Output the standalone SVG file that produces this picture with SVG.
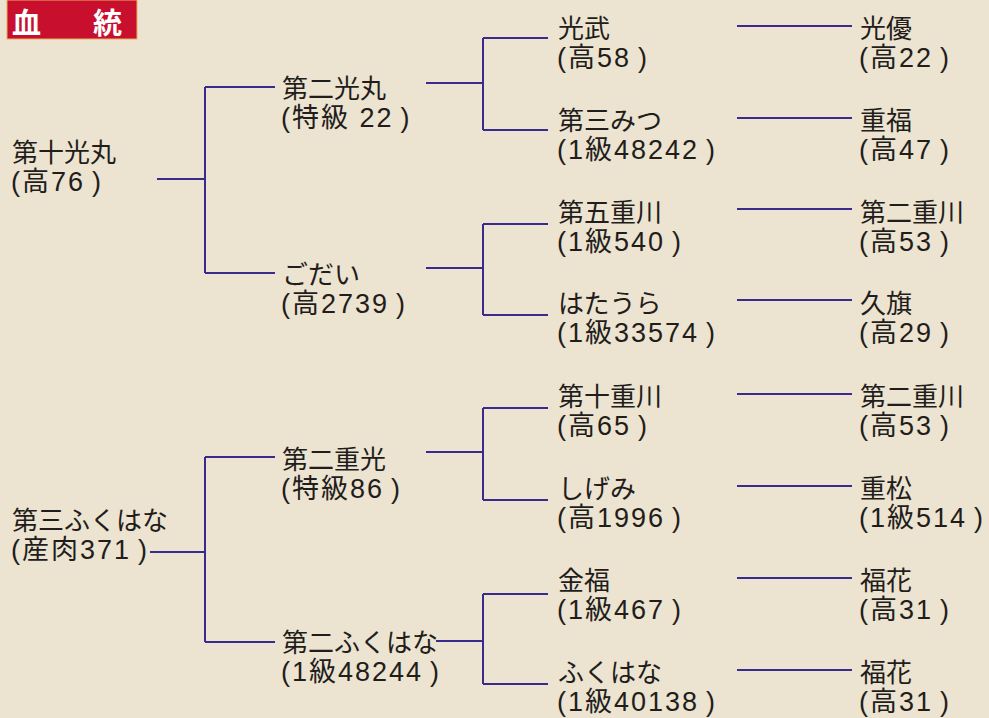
<svg xmlns="http://www.w3.org/2000/svg" width="989" height="718" viewBox="0 0 989 718">
<style>
.t{font-family:"Liberation Sans","Noto Sans CJK JP",sans-serif;font-size:26px;fill:#221d1a}
.s{font-size:27px;letter-spacing:2px}
.c{stroke:#3a2a8e;stroke-width:2;fill:none}
.ttl{font-family:"Noto Sans CJK JP",serif;font-size:29px;font-weight:bold;fill:#fff}
</style>
<rect width="989" height="718" fill="#ece3d1"/>
<g id="title">
<rect x="7" y="0" width="130" height="39" fill="#c8102e" stroke="#e8b060" stroke-width="1"/>
<text class="ttl" x="12" y="34">血　<tspan dx="23">統</tspan></text>
</g>
<g id="connectors" class="c">
<path d="M157 179H205M205 87V273M205 87H275M205 273H275"/>
<path d="M426 83H483M483 38V130M483 38H548M483 130H548"/>
<path d="M426 268H483M483 224V315M483 224H548M483 315H548"/>
<path d="M150 552H205M205 457V642M205 457H275M205 642H275"/>
<path d="M426 452H483M483 408V500M483 408H548M483 500H548"/>
<path d="M436 641H483M483 594V684M483 594H548M483 684H548"/>
<path d="M737 26H852M737 118H852M737 209H852M737 300H852M737 394H852M737 486H852M737 578H852M737 670H852"/>
</g>
<g id="n-daijukomaru"><text class="t" x="12" y="162">第十光丸</text><text class="t s" x="11" y="191">(高76<tspan dx="7">)</tspan></text></g>
<g id="n-daisanfukuhana"><text class="t" x="12" y="530">第三ふくはな</text><text class="t s" x="11" y="559">(産肉371<tspan dx="7">)</tspan></text></g>
<g id="n-dainikomaru"><text class="t" x="282" y="98">第二光丸</text><text class="t s" x="281" y="127">(特級  22<tspan dx="7">)</tspan></text></g>
<g id="n-godai"><text class="t" x="282" y="284">ごだい</text><text class="t s" x="281" y="313">(高2739<tspan dx="7">)</tspan></text></g>
<g id="n-dainishigemitsu"><text class="t" x="282" y="469">第二重光</text><text class="t s" x="281" y="498">(特級86<tspan dx="7">)</tspan></text></g>
<g id="n-dainifukuhana"><text class="t" x="282" y="652">第二ふくはな</text><text class="t s" x="281" y="681">(1級48244<tspan dx="7">)</tspan></text></g>
<g id="n-mitsutake"><text class="t" x="558" y="38">光武</text><text class="t s" x="557" y="67">(高58<tspan dx="7">)</tspan></text></g>
<g id="n-daisanmitsu"><text class="t" x="558" y="130">第三みつ</text><text class="t s" x="557" y="159">(1級48242<tspan dx="7">)</tspan></text></g>
<g id="n-daigoshigekawa"><text class="t" x="558" y="222">第五重川</text><text class="t s" x="557" y="251">(1級540<tspan dx="7">)</tspan></text></g>
<g id="n-hataura"><text class="t" x="558" y="313">はたうら</text><text class="t s" x="557" y="342">(1級33574<tspan dx="7">)</tspan></text></g>
<g id="n-daijushigekawa"><text class="t" x="558" y="406">第十重川</text><text class="t s" x="557" y="435">(高65<tspan dx="7">)</tspan></text></g>
<g id="n-shigemi"><text class="t" x="558" y="498">しげみ</text><text class="t s" x="557" y="527">(高1996<tspan dx="7">)</tspan></text></g>
<g id="n-kinpuku"><text class="t" x="558" y="590">金福</text><text class="t s" x="557" y="619">(1級467<tspan dx="7">)</tspan></text></g>
<g id="n-fukuhana"><text class="t" x="558" y="682">ふくはな</text><text class="t s" x="557" y="711">(1級40138<tspan dx="7">)</tspan></text></g>
<g id="n-mitsuyu"><text class="t" x="860" y="38">光優</text><text class="t s" x="859" y="67">(高22<tspan dx="7">)</tspan></text></g>
<g id="n-shigefuku"><text class="t" x="860" y="130">重福</text><text class="t s" x="859" y="159">(高47<tspan dx="7">)</tspan></text></g>
<g id="n-dainishigekawa1"><text class="t" x="860" y="222">第二重川</text><text class="t s" x="859" y="251">(高53<tspan dx="7">)</tspan></text></g>
<g id="n-kyuki"><text class="t" x="860" y="313">久旗</text><text class="t s" x="859" y="342">(高29<tspan dx="7">)</tspan></text></g>
<g id="n-dainishigekawa2"><text class="t" x="860" y="406">第二重川</text><text class="t s" x="859" y="435">(高53<tspan dx="7">)</tspan></text></g>
<g id="n-shigematsu"><text class="t" x="860" y="498">重松</text><text class="t s" x="859" y="527">(1級514<tspan dx="7">)</tspan></text></g>
<g id="n-fukuka1"><text class="t" x="860" y="590">福花</text><text class="t s" x="859" y="619">(高31<tspan dx="7">)</tspan></text></g>
<g id="n-fukuka2"><text class="t" x="860" y="682">福花</text><text class="t s" x="859" y="711">(高31<tspan dx="7">)</tspan></text></g>
</svg>
